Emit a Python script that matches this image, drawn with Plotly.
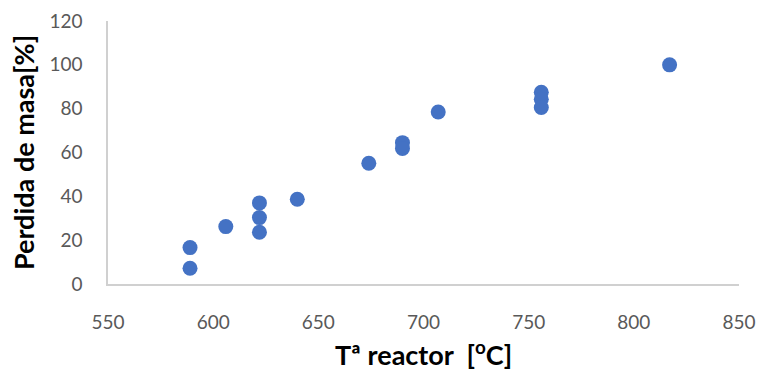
import plotly.graph_objects as go

temp = [589, 589, 606, 622, 622, 622, 640, 674, 690, 690, 707, 756, 756, 756, 817]
perdida = [16.6, 7.2, 26.2, 37.0, 30.3, 23.6, 38.7, 55.1, 64.5, 61.8, 78.5, 87.5, 84.3, 80.5, 100.0]

x_ticks = [550, 600, 650, 700, 750, 800, 850]
y_ticks = [0, 20, 40, 60, 80, 100, 120]

fig = go.Figure()
fig.add_trace(go.Scatter(
    x=temp, y=perdida, mode="markers",
    marker=dict(size=15, color="#4472C4"),
    showlegend=False,
))

fig.update_layout(
    width=760, height=372,
    margin=dict(l=108, r=21, t=21, b=88),
    paper_bgcolor="white", plot_bgcolor="white",
    font=dict(family="Lato", color="#595959", size=19),
)
fig.update_xaxes(
    range=[550, 850], tickvals=x_ticks, showgrid=False, zeroline=False,
    showline=True, linecolor="#D0D0D0", linewidth=1.5, automargin=False,
    ticks="outside", ticklen=20, tickcolor="rgba(0,0,0,0)",
    title=dict(text="Tª reactor  [<sup>o</sup>C]", font=dict(family="Lato", size=27, color="black", weight="bold"), standoff=15),
)
fig.update_yaxes(
    range=[0, 120], tickvals=y_ticks, showgrid=False, zeroline=False,
    showline=True, linecolor="#D0D0D0", linewidth=1.5, automargin=False,
    ticks="outside", ticklen=20, tickcolor="rgba(0,0,0,0)",
    title=dict(text="Perdida de masa[%]", font=dict(family="Lato", size=27, color="black", weight="bold"), standoff=7),
)

fig.write_html("out.html")
